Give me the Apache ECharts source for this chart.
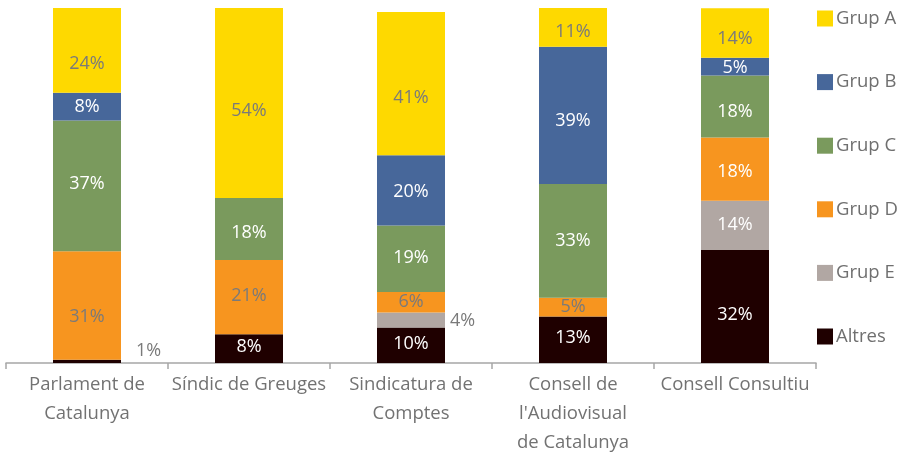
<!DOCTYPE html>
<html><head><meta charset="utf-8">
<script src="https://cdn.jsdelivr.net/npm/echarts@6/dist/echarts.min.js"></script>
<style>html,body{margin:0;padding:0;background:#fff}#c{width:902px;height:457px}</style>
</head><body><div id="c"></div>
<script>
var categories = ["Parlament de\nCatalunya", "Síndic de Greuges", "Sindicatura de\nComptes", "Consell de\nl'Audiovisual\nde Catalunya", "Consell Consultiu"];
var seriesNames = ["Altres", "Grup E", "Grup D", "Grup C", "Grup B", "Grup A"];
var altres = [0.9, 8.1, 10.0, 13.1, 31.8];
var grupE  = [0, 0, 4.2, 0, 13.9];
var grupD  = [30.6, 20.9, 5.8, 5.3, 17.8];
var grupC  = [36.8, 17.5, 18.7, 32.0, 17.5];
var grupB  = [7.8, 0, 19.8, 38.7, 5.0];
var grupA  = [23.9, 53.5, 40.4, 10.9, 13.9];
var labelsShown = {
  "Altres": ["1%", "8%", "10%", "13%", "32%"],
  "Grup E": ["", "", "4%", "", "14%"],
  "Grup D": ["31%", "21%", "6%", "5%", "18%"],
  "Grup C": ["37%", "18%", "19%", "33%", "18%"],
  "Grup B": ["8%", "", "20%", "39%", "5%"],
  "Grup A": ["24%", "54%", "41%", "11%", "14%"]
};

var colors = {"Altres":"#1f0000","Grup E":"#b1a7a3","Grup D":"#f7951f","Grup C":"#7a9a5d","Grup B":"#47679a","Grup A":"#fed900"};
var valuesByName = {"Altres":altres,"Grup E":grupE,"Grup D":grupD,"Grup C":grupC,"Grup B":grupB,"Grup A":grupA};
var GRAY = '#7a7a7a', WHITE = '#ffffff';
var FONT = '"Open Sans"';
// vertical nudges of the labels (style only)
var labelNudge = {
  "Altres": [0, -2, -1, -2, 8],
  "Grup E": [0, 0, 0, 0, -1],
  "Grup D": [11, -1, 0, 0, 3],
  "Grup C": [-2, 4, -1, 0, 5],
  "Grup B": [0, 0, 1, 5, 1],
  "Grup A": [13, 8, 14, 5, 6]
};

function labelFor(name, i) {
  var l = {show: true, position: 'inside', color: WHITE, fontSize: 18, fontFamily: FONT,
           offset: [0, labelNudge[name][i]]};
  if (name === 'Grup A') { l.color = GRAY; }
  if (name === 'Grup D' && i < 4) { l.color = GRAY; }
  if (name === 'Altres' && i === 0) { l.position = 'right'; l.color = GRAY; l.offset = [10, -11]; }
  if (name === 'Grup E' && i === 2) { l.position = 'right'; l.color = GRAY; l.offset = [0, 1]; }
  return l;
}

var series = seriesNames.map(function(name){
  return {
    name: name, type: 'bar', stack: 'total', barWidth: 68,
    itemStyle: {color: colors[name]},
    data: valuesByName[name].map(function(v, i){
      var txt = labelsShown[name][i];
      var lab = labelFor(name, i);
      lab.formatter = function(){ return txt; };
      if (!v) lab.show = false;
      return {value: v, label: lab};
    })
  };
});

var chart = echarts.init(document.getElementById('c'), null, {renderer: 'canvas'});
chart.setOption({
  animation: false,
  color: seriesNames.map(function(n){return colors[n];}),
  grid: {left: 6, right: 86, top: 8, bottom: 90, containLabel: false},
  legend: {
    orient: 'vertical', left: 817, top: 9, padding: 0,
    data: ["Grup A", "Grup B", "Grup C", "Grup D", "Grup E", "Altres"],
    itemWidth: 16, itemHeight: 16, itemGap: 44.6,
    icon: 'rect',
    textStyle: {color: '#6f6f6f', fontSize: 18.5, lineHeight: 16, fontFamily: FONT, padding: [0,0,0,-2]}
  },
  xAxis: {
    type: 'category', data: categories,
    axisLine: {lineStyle: {color: '#a6a6a6', width: 1.5}},
    axisTick: {show: true, length: 6, lineStyle: {color: '#a6a6a6', width: 1.5}},
    axisLabel: {color: '#727272', fontSize: 18.5, fontFamily: FONT, lineHeight: 29, margin: 7, interval: 0}
  },
  yAxis: {type: 'value', min: 0, max: 100, show: false, splitLine: {show: false}},
  series: series
});
</script></body></html>
